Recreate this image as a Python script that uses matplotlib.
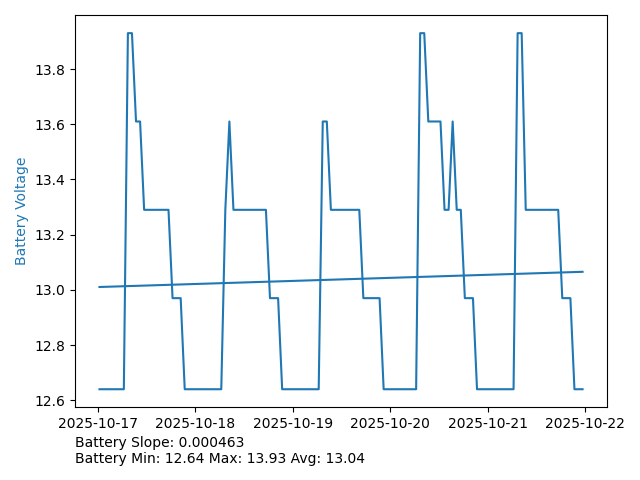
import matplotlib

matplotlib.use("Agg")
import matplotlib.dates as mdates
import matplotlib.pyplot as plt
import numpy as np
import pandas as pd

# Hourly readings, starting 2025-10-17 00:25
START = "2025-10-17 00:25"
# (value, number of consecutive hourly readings)
RUNS = [
    (12.64, 7), (13.93, 2), (13.61, 2), (13.29, 7), (12.97, 3),
    (12.64, 10), (13.29, 1), (13.61, 1), (13.29, 9), (12.97, 3),
    (12.64, 10), (13.61, 2), (13.29, 8), (12.97, 5),
    (12.64, 9), (13.93, 2), (13.61, 4), (13.29, 2), (13.61, 1), (13.29, 2), (12.97, 3),
    (12.64, 10), (13.93, 2), (13.29, 9), (12.97, 3), (12.64, 3),
]
SLOPE_TEXT = "Battery Slope: 0.000463"
STATS_TEXT = "Battery Min: 12.64 Max: 13.93 Avg: 13.04"

voltage = np.array([v for v, n in RUNS for _ in range(n)])
times = pd.date_range(START, periods=len(voltage), freq="h")

# Linear trend over sample index
index = np.arange(len(voltage))
slope, intercept = np.polyfit(index, voltage, 1)
trend = slope * index + intercept

figure, axis = plt.subplots(figsize=(6.4, 4.8), dpi=100)
figure.subplots_adjust(left=0.1177, right=0.948, top=0.968, bottom=0.152)

axis.plot(times, voltage, color="tab:blue")
axis.plot(times, trend, color="tab:blue")
axis.set_ylabel("Battery Voltage", color="tab:blue")
axis.xaxis.set_major_locator(mdates.DayLocator())
axis.xaxis.set_major_formatter(mdates.DateFormatter("%Y-%m-%d"))

figure.text(0.1177, 0.029, SLOPE_TEXT + "\n" + STATS_TEXT, va="bottom", ha="left")

figure.savefig("out.png", dpi=100)
plt.close(figure)
